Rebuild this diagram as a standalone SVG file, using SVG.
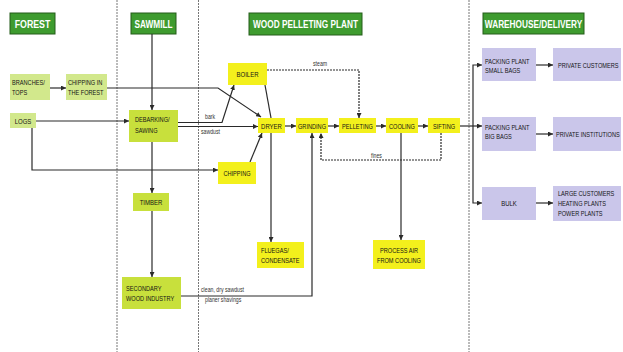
<svg xmlns="http://www.w3.org/2000/svg" width="623" height="352" viewBox="0 0 623 352">
<style>
.hdr{fill:#3e9b2f;stroke:#245c1a;stroke-width:1}
.ht{font-family:"Liberation Sans",Arial,sans-serif;font-weight:bold;font-size:11px;fill:#fff;text-anchor:middle}
.fb{fill:#d2e88c}
.sb{fill:#c8e03c}
.yb{fill:#f3f01c}
.pb{fill:#cac6ea}
.t{font-family:"Liberation Sans",Arial,sans-serif;font-size:7.5px;fill:#151515}
.c{text-anchor:middle}
.l{font-family:"Liberation Sans",Arial,sans-serif;font-size:6.5px;fill:#333}
.sep{stroke:#777;stroke-width:1;stroke-dasharray:2 1;fill:none}
.ln{stroke:#2a2a2a;stroke-width:1.2;fill:none}
.ar{marker-end:url(#ah)}
.da{stroke-dasharray:2 1}
</style>
<defs>
<marker id="ah" markerUnits="userSpaceOnUse" markerWidth="5" markerHeight="5" refX="5" refY="2.5" orient="auto">
<path d="M0,0 L5,2.5 L0,5 z" fill="#2a2a2a"/>
</marker>
</defs>
<rect width="623" height="352" fill="#fff"/>
<g id="separators">
<line class="sep" x1="117" y1="0" x2="117" y2="352"/>
<line class="sep" x1="198.5" y1="0" x2="198.5" y2="352"/>
<line class="sep" x1="469" y1="0" x2="469" y2="352"/>
</g>
<g id="h-forest"><rect class="hdr" x="10" y="13" width="45" height="21"/><text class="ht" transform="translate(32.5 27.5) scale(.8 1)">FOREST</text></g>
<g id="h-sawmill"><rect class="hdr" x="131" y="13" width="45" height="21"/><text class="ht" transform="translate(153.5 27.5) scale(.75 1)">SAWMILL</text></g>
<g id="h-plant"><rect class="hdr" x="249" y="13" width="113" height="22"/><text class="ht" transform="translate(305.5 28) scale(.75 1)">WOOD PELLETING PLANT</text></g>
<g id="h-warehouse"><rect class="hdr" x="483" y="13" width="101" height="21"/><text class="ht" transform="translate(533.5 27.5) scale(.75 1)">WAREHOUSE/DELIVERY</text></g>

<g id="connectors">
<line class="ln ar" x1="50" y1="88" x2="66" y2="88"/>
<polyline class="ln ar" points="107,88 218,88 261,117"/>
<line class="ln ar" x1="36" y1="121" x2="129" y2="121"/>
<polyline class="ln ar" points="32,128 32,170 218,170"/>
<line class="ln ar" x1="152" y1="34" x2="152" y2="110"/>
<line class="ln ar" x1="152" y1="142" x2="152" y2="193"/>
<line class="ln ar" x1="152" y1="211" x2="152" y2="277"/>
<polyline class="ln ar" points="181,296 312,296 312,133"/>
<polyline class="ln ar" points="178,122.5 222,122.5 234,85"/>
<line class="ln ar" x1="178" y1="126.5" x2="258" y2="126.5"/>
<line class="ln" x1="265" y1="85" x2="271" y2="118"/>
<line class="ln ar" x1="250" y1="162" x2="262" y2="133"/>
<line class="ln ar" x1="271" y1="133" x2="271" y2="242"/>
<polyline class="ln ar da" points="267,70 359,70 359,118"/>
<line class="ln ar" x1="285" y1="126" x2="296" y2="126"/>
<line class="ln ar" x1="328" y1="126" x2="339" y2="126"/>
<line class="ln ar" x1="376" y1="126" x2="386" y2="126"/>
<line class="ln ar" x1="418" y1="126" x2="428" y2="126"/>
<polyline class="ln ar da" points="441,133 441,160 321,160 321,133"/>
<line class="ln ar" x1="401" y1="133" x2="401" y2="240"/>
<line class="ln ar" x1="460" y1="126" x2="482" y2="126"/>
<polyline class="ln ar" points="473,126 473,65 482,65"/>
<polyline class="ln ar" points="473,126 473,203 482,203"/>
<line class="ln ar" x1="536" y1="65" x2="553" y2="65"/>
<line class="ln ar" x1="536" y1="134" x2="553" y2="134"/>
<line class="ln ar" x1="536" y1="203" x2="553" y2="203"/>
<text class="l" transform="translate(313 66) scale(.8 1)">steam</text>
<text class="l" transform="translate(205 119) scale(.8 1)">bark</text>
<text class="l" transform="translate(201 134) scale(.8 1)">sawdust</text>
<text class="l" transform="translate(371 158) scale(.8 1)">fines</text>
<text class="l" transform="translate(201 292) scale(.8 1)">clean, dry sawdust</text>
<text class="l" transform="translate(205 302) scale(.8 1)">planer shavings</text>
</g>

<g id="branches"><rect class="fb" x="10" y="74" width="40" height="26"/><text class="t" transform="translate(12 85) scale(.75 1)"><tspan x="0">BRANCHES/</tspan><tspan x="0" dy="10">TOPS</tspan></text></g>
<g id="chipping-forest"><rect class="fb" x="66" y="74" width="41" height="26"/><text class="t" transform="translate(68 85) scale(.75 1)"><tspan x="0">CHIPPING IN</tspan><tspan x="0" dy="10">THE FOREST</tspan></text></g>
<g id="logs"><rect class="fb" x="10" y="113" width="26" height="15"/><text class="t c" transform="translate(23 123.5) scale(.8 1)">LOGS</text></g>
<g id="debarking"><rect class="sb" x="129" y="110" width="49" height="32"/><text class="t" transform="translate(135 122) scale(.75 1)"><tspan x="0">DEBARKING/</tspan><tspan x="0" dy="11">SAWING</tspan></text></g>
<g id="timber"><rect class="sb" x="133" y="193" width="36" height="18"/><text class="t c" transform="translate(151 205) scale(.8 1)">TIMBER</text></g>
<g id="secondary"><rect class="sb" x="122" y="277" width="59" height="32"/><text class="t" transform="translate(126 291) scale(.75 1)"><tspan x="0">SECONDARY</tspan><tspan x="0" dy="10">WOOD INDUSTRY</tspan></text></g>
<g id="boiler"><rect class="yb" x="228" y="63" width="39" height="22"/><text class="t c" transform="translate(247.5 77) scale(.8 1)">BOILER</text></g>
<g id="dryer"><rect class="yb" x="258" y="118" width="27" height="15"/><text class="t c" transform="translate(271.5 128.5) scale(.8 1)">DRYER</text></g>
<g id="grinding"><rect class="yb" x="296" y="118" width="32" height="15"/><text class="t c" transform="translate(312 128.5) scale(.75 1)">GRINDING</text></g>
<g id="pelleting"><rect class="yb" x="339" y="118" width="37" height="15"/><text class="t c" transform="translate(357.5 128.5) scale(.75 1)">PELLETING</text></g>
<g id="cooling"><rect class="yb" x="386" y="118" width="32" height="15"/><text class="t c" transform="translate(402 128.5) scale(.75 1)">COOLING</text></g>
<g id="sifting"><rect class="yb" x="428" y="118" width="32" height="15"/><text class="t c" transform="translate(444 128.5) scale(.75 1)">SIFTING</text></g>
<g id="chipping"><rect class="yb" x="218" y="162" width="38" height="22"/><text class="t c" transform="translate(237 175.5) scale(.75 1)">CHIPPING</text></g>
<g id="fluegas"><rect class="yb" x="257" y="242" width="47" height="26"/><text class="t" transform="translate(261 253) scale(.75 1)"><tspan x="0">FLUEGAS/</tspan><tspan x="0" dy="10">CONDENSATE</tspan></text></g>
<g id="process-air"><rect class="yb" x="373" y="240" width="52" height="29"/><text class="t c" transform="translate(399 253) scale(.75 1)"><tspan x="0">PROCESS AIR</tspan><tspan x="0" dy="10">FROM COOLING</tspan></text></g>
<g id="small-bags"><rect class="pb" x="482" y="48" width="54" height="33"/><text class="t" transform="translate(485 64) scale(.75 1)"><tspan x="0">PACKING PLANT</tspan><tspan x="0" dy="9">SMALL BAGS</tspan></text></g>
<g id="private-customers"><rect class="pb" x="553" y="48" width="68" height="33"/><text class="t" transform="translate(558 67.5) scale(.75 1)">PRIVATE CUSTOMERS</text></g>
<g id="big-bags"><rect class="pb" x="482" y="117" width="54" height="34"/><text class="t" transform="translate(485 130) scale(.75 1)"><tspan x="0">PACKING PLANT</tspan><tspan x="0" dy="9">BIG BAGS</tspan></text></g>
<g id="private-institutions"><rect class="pb" x="553" y="117" width="68" height="34"/><text class="t" transform="translate(556 136.5) scale(.75 1)">PRIVATE INSTITUTIONS</text></g>
<g id="bulk"><rect class="pb" x="482" y="187" width="54" height="33"/><text class="t c" transform="translate(509 206) scale(.8 1)">BULK</text></g>
<g id="large-customers"><rect class="pb" x="553" y="186" width="68" height="35"/><text class="t" transform="translate(558 196) scale(.75 1)"><tspan x="0">LARGE CUSTOMERS</tspan><tspan x="0" dy="10">HEATING PLANTS</tspan><tspan x="0" dy="10">POWER PLANTS</tspan></text></g>
</svg>
